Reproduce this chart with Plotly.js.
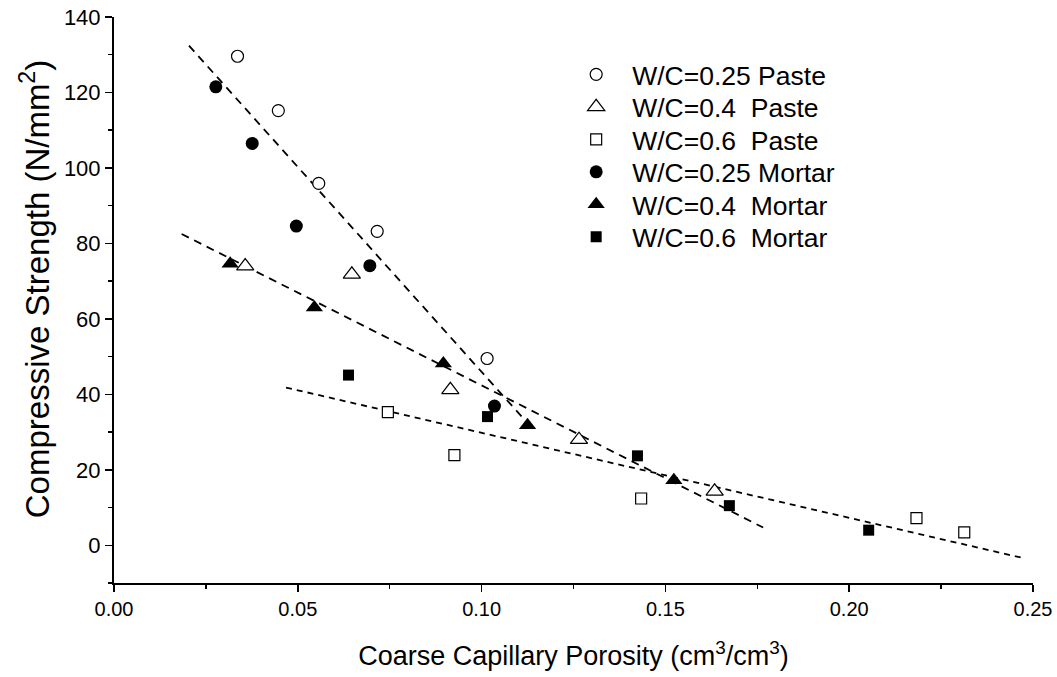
<!DOCTYPE html>
<html>
<head>
<meta charset="utf-8">
<script src="https://cdn.plot.ly/plotly-3.0.1.min.js"></script>
<style>html,body{margin:0;padding:0;background:#fff;}#chart{width:1057px;height:677px;}</style>
</head>
<body>
<div id="chart"></div>
<script>
// Measured data
const paste025X = [0.0336, 0.0447, 0.0557, 0.0716, 0.1015];
const paste025Y = [129.6, 115.2, 95.9, 83.2, 49.5];
const paste04X = [0.0357, 0.0647, 0.0915, 0.1265, 0.1634];
const paste04Y = [74.0, 71.8, 41.2, 28.0, 14.3];
const paste06X = [0.0745, 0.0926, 0.1434, 0.2183, 0.2313];
const paste06Y = [35.3, 23.9, 12.4, 7.2, 3.4];
const mortar025X = [0.0277, 0.0376, 0.0496, 0.0696, 0.1035];
const mortar025Y = [121.5, 106.5, 84.6, 74.1, 36.9];
const mortar04X = [0.0316, 0.0545, 0.0896, 0.1125, 0.1523];
const mortar04Y = [74.6, 63.0, 48.2, 31.8, 17.2];
const mortar06X = [0.0638, 0.1016, 0.1424, 0.1674, 0.2053];
const mortar06Y = [45.1, 34.1, 23.7, 10.5, 4.0];
// Fitted trend lines (end points)
const fit025X = [0.0204, 0.1110];
const fit025Y = [132.4, 34.0];
const fit04X = [0.0184, 0.1766];
const fit04Y = [82.5, 4.7];
const fit06X = [0.0468, 0.2469];
const fit06Y = [41.8, -3.3];

const names = ['W/C=0.25 Paste', 'W/C=0.4\u00a0 Paste', 'W/C=0.6\u00a0 Paste',
               'W/C=0.25 Mortar', 'W/C=0.4\u00a0 Mortar', 'W/C=0.6\u00a0 Mortar'];

function fitLine(x, y, dash) {
  return {x: x, y: y, mode: 'lines', type: 'scatter', showlegend: false, hoverinfo: 'skip',
          line: {color: '#000', width: 1.8, dash: dash}};
}
function pts(x, y, name, symbol, filled, size, rank) {
  return {x: x, y: y, name: name, mode: 'markers', type: 'scatter', legendrank: rank,
          marker: {symbol: symbol, size: size, color: filled ? '#000' : '#fff',
                   line: {color: '#000', width: filled ? 0 : 1.2}}};
}

const data = [
  fitLine(fit025X, fit025Y, '8px,6px'),
  fitLine(fit04X, fit04Y, '8px,6px'),
  fitLine(fit06X, fit06Y, '6px,5px'),
  pts(mortar025X, mortar025Y, names[3], 'circle', true, 13, 4),
  pts(mortar04X, mortar04Y, names[4], 'triangle-up', true, 15, 5),
  pts(mortar06X, mortar06Y, names[5], 'square', true, 11, 6),
  pts(paste025X, paste025Y, names[0], 'circle', false, 12, 1),
  pts(paste04X, paste04Y, names[1], 'triangle-up', false, 15, 2),
  pts(paste06X, paste06Y, names[2], 'square', false, 11, 3)
];

const FONT = 'Liberation Sans, Arial, sans-serif';
const layout = {
  width: 1057, height: 677,
  paper_bgcolor: '#fff', plot_bgcolor: '#fff',
  margin: {l: 114, r: 24, t: 17, b: 94, pad: 0},
  font: {family: FONT, color: '#000'},
  showlegend: true,
  legend: {x: 0.4855, y: 0.9406, xanchor: 'left', yanchor: 'top', bgcolor: 'rgba(0,0,0,0)',
           font: {size: 26.5, family: FONT}, itemwidth: 62, traceorder: 'normal'},
  xaxis: {
    range: [0, 0.25], showgrid: false, zeroline: false, showline: true, linewidth: 2, linecolor: '#000',
    ticks: 'outside', ticklen: 7, tickwidth: 1.5, tickcolor: '#000', dtick: 0.05, tick0: 0,
    tickformat: '.2f', tickfont: {size: 20},
    minor: {dtick: 0.025, ticks: 'outside', ticklen: 4, tickwidth: 1.5, tickcolor: '#000'},
    title: {text: 'Coarse Capillary Porosity (cm<sup>3</sup>/cm<sup>3</sup>)', font: {size: 27}, standoff: 27}
  },
  yaxis: {
    range: [-10, 140], showgrid: false, zeroline: false, showline: true, linewidth: 2, linecolor: '#000',
    ticks: 'outside', ticklen: 7, tickwidth: 1.5, tickcolor: '#000', dtick: 20, tick0: 0,
    tickfont: {size: 22},
    minor: {dtick: 10, ticks: 'outside', ticklen: 4, tickwidth: 1.5, tickcolor: '#000'},
    title: {text: 'Compressive Strength (N/mm<sup>2</sup>)', font: {size: 33}, standoff: 4}
  }
};

const LEGEND_ROW = 32.5; // spacing between legend rows in the reference
const YTITLE_SHIFT = -11; // reference y title sits slightly above the plot centre
Plotly.newPlot('chart', data, layout, {displayModeBar: false, staticPlot: true}).then(function () {
  const items = document.querySelectorAll('.legend .traces');
  if (items.length) {
    const m = /translate\(\s*([-\d.]+)[ ,]+([-\d.]+)/.exec(items[0].getAttribute('transform') || '');
    const x0 = m ? parseFloat(m[1]) : 0;
    const y0 = m ? parseFloat(m[2]) : 0;
    items.forEach(function (g, i) {
      g.setAttribute('transform', 'translate(' + x0 + ',' + (y0 + i * LEGEND_ROW) + ')');
    });
  }
  const yt = document.querySelector('.g-ytitle');
  if (yt) yt.setAttribute('transform', 'translate(0,' + YTITLE_SHIFT + ')');
});
</script>
</body>
</html>
